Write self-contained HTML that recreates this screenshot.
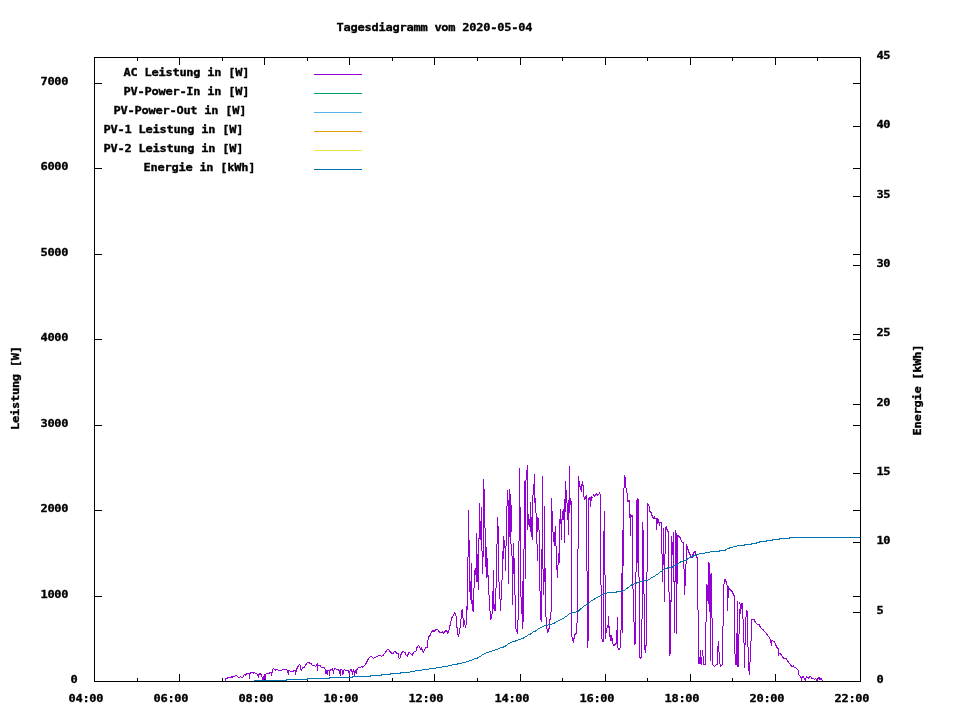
<!DOCTYPE html>
<html lang="de">
<head>
<meta charset="utf-8">
<title>Tagesdiagramm vom 2020-05-04</title>
<style>
html,body{margin:0;padding:0;background:#fff;}
body{width:960px;height:720px;overflow:hidden;}
svg{display:block;}
text{font-family:"DejaVu Sans Mono", "Liberation Mono", monospace;font-size:12px;font-weight:bold;fill:#000;stroke:#000;stroke-width:0.35px;}
</style>
</head>
<body>
<svg width="960" height="720" viewBox="0 0 960 720" shape-rendering="crispEdges">
<rect x="0" y="0" width="960" height="720" fill="#fff"/>
<g id="ticks">
<rect x="137" y="678" width="1" height="4" fill="#000"/>
<rect x="137" y="57" width="1" height="4" fill="#000"/>
<rect x="179" y="674" width="1" height="8" fill="#000"/>
<rect x="179" y="57" width="1" height="8" fill="#000"/>
<rect x="222" y="678" width="1" height="4" fill="#000"/>
<rect x="222" y="57" width="1" height="4" fill="#000"/>
<rect x="264" y="674" width="1" height="8" fill="#000"/>
<rect x="264" y="57" width="1" height="8" fill="#000"/>
<rect x="307" y="678" width="1" height="4" fill="#000"/>
<rect x="307" y="57" width="1" height="4" fill="#000"/>
<rect x="349" y="674" width="1" height="8" fill="#000"/>
<rect x="349" y="57" width="1" height="8" fill="#000"/>
<rect x="392" y="678" width="1" height="4" fill="#000"/>
<rect x="392" y="57" width="1" height="4" fill="#000"/>
<rect x="434" y="674" width="1" height="8" fill="#000"/>
<rect x="434" y="57" width="1" height="8" fill="#000"/>
<rect x="477" y="678" width="1" height="4" fill="#000"/>
<rect x="477" y="57" width="1" height="4" fill="#000"/>
<rect x="520" y="674" width="1" height="8" fill="#000"/>
<rect x="520" y="57" width="1" height="8" fill="#000"/>
<rect x="562" y="678" width="1" height="4" fill="#000"/>
<rect x="562" y="57" width="1" height="4" fill="#000"/>
<rect x="605" y="674" width="1" height="8" fill="#000"/>
<rect x="605" y="57" width="1" height="8" fill="#000"/>
<rect x="647" y="678" width="1" height="4" fill="#000"/>
<rect x="647" y="57" width="1" height="4" fill="#000"/>
<rect x="690" y="674" width="1" height="8" fill="#000"/>
<rect x="690" y="57" width="1" height="8" fill="#000"/>
<rect x="732" y="678" width="1" height="4" fill="#000"/>
<rect x="732" y="57" width="1" height="4" fill="#000"/>
<rect x="775" y="674" width="1" height="8" fill="#000"/>
<rect x="775" y="57" width="1" height="8" fill="#000"/>
<rect x="817" y="678" width="1" height="4" fill="#000"/>
<rect x="817" y="57" width="1" height="4" fill="#000"/>
<rect x="94" y="596" width="8" height="1" fill="#000"/>
<rect x="853" y="596" width="8" height="1" fill="#000"/>
<rect x="94" y="510" width="8" height="1" fill="#000"/>
<rect x="853" y="510" width="8" height="1" fill="#000"/>
<rect x="94" y="425" width="8" height="1" fill="#000"/>
<rect x="853" y="425" width="8" height="1" fill="#000"/>
<rect x="94" y="339" width="8" height="1" fill="#000"/>
<rect x="853" y="339" width="8" height="1" fill="#000"/>
<rect x="94" y="254" width="8" height="1" fill="#000"/>
<rect x="853" y="254" width="8" height="1" fill="#000"/>
<rect x="94" y="168" width="8" height="1" fill="#000"/>
<rect x="853" y="168" width="8" height="1" fill="#000"/>
<rect x="94" y="83" width="8" height="1" fill="#000"/>
<rect x="853" y="83" width="8" height="1" fill="#000"/>
<rect x="853" y="612" width="8" height="1" fill="#000"/>
<rect x="853" y="542" width="8" height="1" fill="#000"/>
<rect x="853" y="473" width="8" height="1" fill="#000"/>
<rect x="853" y="404" width="8" height="1" fill="#000"/>
<rect x="853" y="334" width="8" height="1" fill="#000"/>
<rect x="853" y="265" width="8" height="1" fill="#000"/>
<rect x="853" y="196" width="8" height="1" fill="#000"/>
<rect x="853" y="126" width="8" height="1" fill="#000"/>
</g>
<g id="curves">
<path d="M225.5 678V681M226.5 678V679M227.5 677V679M228.5 677V678M229.5 677V678M230.5 677V678M231.5 676V678M232.5 676V678M233.5 676V677M234.5 676V677M235.5 675V676M236.5 675V676M237.5 676V677M238.5 677V678M239.5 677V678M240.5 676V677M241.5 677V678M242.5 677V678M243.5 675V677M244.5 674V675M245.5 674V676M246.5 673V675M247.5 673V674M248.5 673V674M249.5 673V679M250.5 672V674M251.5 672V673M252.5 672V673M253.5 672V674M254.5 672V673M255.5 673V674M256.5 673V674M257.5 674V676M258.5 674V678M259.5 673V675M260.5 673V675M261.5 674V677M262.5 677V680M263.5 676V680M264.5 674V679M265.5 674V680M266.5 673V674M267.5 673V674M268.5 673V674M269.5 672V674M270.5 672V673M271.5 672V676M272.5 669V673M273.5 668V669M274.5 669V670M275.5 669V671M276.5 669V670M277.5 669V670M278.5 670V671M279.5 670V671M280.5 670V671M281.5 670V671M282.5 669V670M283.5 669V670M284.5 669V670M285.5 669V670M286.5 669V670M287.5 670V673M288.5 670V675M289.5 670V671M290.5 671V672M291.5 671V672M292.5 671V672M293.5 670V672M294.5 670V671M295.5 670V675M296.5 668V672M297.5 666V669M298.5 665V667M299.5 664V665M300.5 665V670M301.5 669V671M302.5 667V669M303.5 667V668M304.5 666V668M305.5 664V666M306.5 663V665M307.5 662V663M308.5 662V663M309.5 662V664M310.5 663V664M311.5 663V665M312.5 665V666M313.5 665V666M314.5 665V666M315.5 666V667M316.5 664V666M317.5 663V671M318.5 665V666M319.5 665V666M320.5 665V667M321.5 667V668M322.5 667V668M323.5 667V668M324.5 667V669M325.5 669V674M326.5 670V674M327.5 670V675M328.5 670V671M329.5 670V676M330.5 669V671M331.5 669V670M332.5 668V671M333.5 670V674M334.5 668V670M335.5 668V669M336.5 669V670M337.5 669V670M338.5 669V671M339.5 670V674M340.5 669V676M341.5 669V670M342.5 670V675M343.5 670V674M344.5 669V670M345.5 670V671M346.5 670V671M347.5 670V671M348.5 670V673M349.5 671V676M350.5 669V671M351.5 669V672M352.5 671V675M353.5 669V672M354.5 671V676M355.5 670V673M356.5 669V674M357.5 668V670M358.5 667V668M359.5 667V668M360.5 667V668M361.5 666V667M362.5 666V668M363.5 666V667M364.5 665V666M365.5 663V665M366.5 661V664M367.5 659V662M368.5 658V660M369.5 657V658M370.5 656V657M371.5 656V657M372.5 657V658M373.5 658V659M374.5 657V658M375.5 657V658M376.5 656V657M377.5 656V657M378.5 655V656M379.5 655V656M380.5 655V656M381.5 656V657M382.5 655V656M383.5 654V656M384.5 653V654M385.5 651V653M386.5 650V652M387.5 649V650M388.5 649V650M389.5 650V652M390.5 651V653M391.5 652V654M392.5 653V654M393.5 652V654M394.5 651V652M395.5 651V653M396.5 652V654M397.5 653V654M398.5 653V658M399.5 658V659M400.5 654V658M401.5 652V655M402.5 651V653M403.5 651V652M404.5 652V653M405.5 652V655M406.5 655V656M407.5 654V657M408.5 652V655M409.5 652V653M410.5 653V654M411.5 654V655M412.5 653V656M413.5 652V654M414.5 651V652M415.5 651V652M416.5 647V651M417.5 646V648M418.5 645V646M419.5 646V648M420.5 648V650M421.5 647V650M422.5 649V652M423.5 651V653M424.5 649V651M425.5 647V649M426.5 647V648M427.5 640V648M428.5 636V640M429.5 635V637M430.5 633V636M431.5 631V633M432.5 630V632M433.5 630V632M434.5 630V632M435.5 629V631M436.5 629V630M437.5 629V630M438.5 630V632M439.5 631V633M440.5 632V633M441.5 632V633M442.5 631V633M443.5 632V634M444.5 631V633M445.5 630V632M446.5 630V632M447.5 631V634M448.5 630V633M449.5 625V630M450.5 621V626M451.5 617V621M452.5 616V618M453.5 614V616M454.5 612V614M455.5 613V616M456.5 616V628M457.5 627V635M458.5 634V637M459.5 628V634M460.5 619V628M461.5 610V619M462.5 609V618M463.5 618V627M464.5 620V625M465.5 625V628M466.5 606V625M467.5 557V610M468.5 510V557M469.5 540V592M470.5 581V600M471.5 563V604M472.5 600V611M473.5 588V612M474.5 570V588M475.5 568V575M476.5 533V582M477.5 554V582M478.5 538V590M479.5 503V539M480.5 521V540M481.5 507V551M482.5 551V574M483.5 479V557M484.5 489V528M485.5 528V567M486.5 547V578M487.5 558V577M488.5 575V595M489.5 595V611M490.5 611V620M491.5 614V619M492.5 591V614M493.5 570V609M494.5 604V611M495.5 588V611M496.5 544V588M497.5 517V544M498.5 526V582M499.5 582V599M500.5 599V611M501.5 580V600M502.5 551V580M503.5 536V559M504.5 540V548M505.5 546V571M506.5 506V546M507.5 490V506M508.5 500V584M509.5 489V537M510.5 494V544M511.5 505V532M511.5 544V556M512.5 556V605M513.5 543V574M514.5 558V595M515.5 595V629M516.5 629V632M517.5 620V634M518.5 541V620M519.5 468V541M520.5 507V597M521.5 597V614M522.5 581V629M523.5 549V622M524.5 481V549M525.5 480V579M526.5 470V480M527.5 465V530M528.5 514V525M529.5 519V527M530.5 502V532M531.5 517V537M532.5 495V540M533.5 484V495M534.5 474V503M535.5 498V513M536.5 513V544M537.5 517V532M537.5 544V561M538.5 518V530M539.5 530V591M540.5 591V620M541.5 549V622M542.5 476V569M543.5 569V595M544.5 506V582M545.5 568V617M546.5 617V629M547.5 629V633M548.5 628V632M549.5 619V629M550.5 612V620M551.5 498V612M552.5 511V532M553.5 532V542M554.5 532V546M555.5 526V546M556.5 546V570M557.5 565V578M558.5 553V565M559.5 519V563M560.5 509V524M561.5 519V540M562.5 511V520M563.5 509V520M564.5 499V543M565.5 481V512M566.5 490V503M567.5 503V520M568.5 500V535M569.5 466V513M570.5 498V505M571.5 501V637M572.5 637V641M573.5 638V643M574.5 634V639M575.5 633V635M576.5 623V634M577.5 549V623M578.5 476V549M579.5 481V487M580.5 486V490M581.5 484V492M582.5 481V486M583.5 485V497M584.5 497V500M585.5 496V499M586.5 495V571M587.5 571V648M588.5 498V641M589.5 497V500M590.5 497V507M591.5 496V501M592.5 497V498M593.5 494V496M594.5 495V497M595.5 494V496M596.5 493V495M597.5 494V496M598.5 494V495M599.5 492V494M600.5 494V585M601.5 585V639M602.5 639V642M603.5 531V642M604.5 511V575M605.5 575V639M606.5 628V633M607.5 625V628M608.5 616V628M609.5 626V637M610.5 635V641M611.5 635V641M612.5 638V644M613.5 644V646M614.5 644V646M615.5 643V645M616.5 630V644M617.5 617V648M618.5 648V650M619.5 648V650M620.5 630V648M621.5 573V630M622.5 530V633M623.5 488V566M624.5 475V488M625.5 477V488M626.5 488V493M627.5 493V502M628.5 500V502M629.5 500V518M630.5 514V536M631.5 515V517M632.5 515V589M633.5 589V622M634.5 622V645M635.5 572V644M636.5 500V572M637.5 498V563M638.5 499V577M639.5 577V658M640.5 657V659M641.5 619V658M642.5 522V619M643.5 530V594M644.5 594V650M645.5 645V653M646.5 572V646M647.5 503V572M648.5 504V506M649.5 506V512M650.5 511V513M651.5 512V516M652.5 515V518M653.5 517V519M654.5 516V519M655.5 518V519M656.5 518V530M657.5 518V524M658.5 519V523M659.5 522V526M660.5 522V523M661.5 522V554M662.5 554V582M663.5 528V565M664.5 554V602M665.5 527V554M666.5 526V530M667.5 529V532M668.5 531V592M669.5 592V656M670.5 600V654M671.5 536V602M672.5 542V555M673.5 532V582M674.5 581V633M675.5 530V582M676.5 533V634M677.5 535V584M678.5 535V537M679.5 536V538M680.5 537V540M681.5 540V542M682.5 542V543M683.5 542V569M684.5 569V595M685.5 564V586M686.5 544V564M687.5 546V550M688.5 549V553M689.5 552V555M690.5 554V557M691.5 556V558M692.5 554V558M693.5 552V555M694.5 551V553M695.5 551V555M696.5 554V558M697.5 557V610M698.5 610V664M699.5 657V664M700.5 650V664M701.5 657V665M702.5 650V656M703.5 656V665M704.5 664V665M705.5 622V665M706.5 584V622M707.5 585V601M708.5 562V604M709.5 563V612M710.5 574V661M711.5 573V618M712.5 618V665M713.5 665V666M714.5 666V667M715.5 665V666M716.5 664V665M717.5 646V665M718.5 641V652M719.5 652V664M720.5 664V667M721.5 665V666M722.5 626V665M723.5 584V626M724.5 579V584M725.5 579V582M726.5 581V585M727.5 585V611M728.5 586V598M729.5 588V590M730.5 589V591M731.5 590V592M732.5 591V594M733.5 593V596M734.5 595V654M735.5 654V665M736.5 633V665M737.5 601V667M738.5 634V667M739.5 602V604M739.5 609V634M740.5 604V614M741.5 603V609M742.5 603V619M743.5 619V643M744.5 643V668M745.5 617V645M746.5 610V617M747.5 611V647M748.5 647V671M749.5 662V675M750.5 641V662M751.5 619V641M752.5 619V620M753.5 619V620M754.5 619V622M755.5 621V623M756.5 623V624M757.5 624V625M758.5 624V625M759.5 624V627M760.5 626V628M761.5 628V629M762.5 629V630M763.5 629V631M764.5 631V632M765.5 632V633M766.5 633V635M767.5 634V636M768.5 636V637M769.5 637V639M770.5 639V643M771.5 640V646M772.5 640V641M773.5 641V642M774.5 641V643M775.5 643V646M776.5 645V648M777.5 647V649M778.5 648V656M779.5 653V654M780.5 653V655M781.5 654V656M782.5 656V658M783.5 657V659M784.5 658V659M785.5 658V659M786.5 658V660M787.5 660V662M788.5 661V663M789.5 663V664M790.5 664V666M791.5 665V667M792.5 666V667M793.5 665V667M794.5 667V668M795.5 667V668M796.5 668V669M797.5 669V670M798.5 670V675M799.5 675V676M800.5 676V678M801.5 677V681M802.5 676V678M803.5 676V678M804.5 678V680M805.5 678V681M806.5 676V678M807.5 677V678M808.5 677V679M809.5 676V678M810.5 676V677M811.5 677V679M812.5 678V679M813.5 678V679M814.5 679V680M815.5 678V679M816.5 679V681M817.5 679V681M818.5 677V679M819.5 677V680M820.5 678V680M821.5 678V680M822.5 680V681M823.5 681V682" fill="none" stroke="#9400d3" stroke-width="1"/>
<path d="M254.5 680V681M255.5 680V681M256.5 680V681M257.5 680V681M258.5 680V681M259.5 680V681M260.5 680V681M261.5 680V681M262.5 680V681M263.5 680V681M264.5 680V681M265.5 680V681M266.5 680V681M267.5 680V681M268.5 680V681M269.5 680V681M270.5 680V681M271.5 680V681M272.5 680V681M273.5 680V681M274.5 680V681M275.5 680V681M276.5 680V681M277.5 680V681M278.5 680V681M279.5 680V681M280.5 680V681M281.5 680V681M282.5 680V681M283.5 680V681M284.5 680V681M285.5 680V681M286.5 679V681M287.5 679V680M288.5 679V680M289.5 679V680M290.5 679V680M291.5 679V680M292.5 679V680M293.5 679V680M294.5 679V680M295.5 679V680M296.5 679V680M297.5 679V680M298.5 679V680M299.5 679V680M300.5 679V680M301.5 679V680M302.5 679V680M303.5 679V680M304.5 679V680M305.5 679V680M306.5 679V680M307.5 678V680M308.5 678V679M309.5 678V679M310.5 678V679M311.5 678V679M312.5 678V679M313.5 678V679M314.5 678V679M315.5 678V679M316.5 678V679M317.5 678V679M318.5 678V679M319.5 678V679M320.5 678V679M321.5 678V679M322.5 678V679M323.5 678V679M324.5 678V679M325.5 678V679M326.5 678V679M327.5 678V679M328.5 678V679M329.5 677V679M330.5 677V678M331.5 677V678M332.5 677V678M333.5 677V678M334.5 677V678M335.5 677V678M336.5 677V678M337.5 677V678M338.5 677V678M339.5 677V678M340.5 677V678M341.5 677V678M342.5 677V678M343.5 677V678M344.5 677V678M345.5 677V678M346.5 677V678M347.5 677V678M348.5 677V678M349.5 677V678M350.5 677V678M351.5 677V678M352.5 676V678M353.5 676V677M354.5 676V677M355.5 676V677M356.5 676V677M357.5 676V677M358.5 676V677M359.5 676V677M360.5 676V677M361.5 676V677M362.5 676V677M363.5 676V677M364.5 676V677M365.5 676V677M366.5 676V677M367.5 676V677M368.5 676V677M369.5 676V677M370.5 675V677M371.5 675V676M372.5 675V676M373.5 675V676M374.5 675V676M375.5 675V676M376.5 675V676M377.5 675V676M378.5 675V676M379.5 675V676M380.5 675V676M381.5 674V676M382.5 674V675M383.5 674V675M384.5 674V675M385.5 674V675M386.5 674V675M387.5 674V675M388.5 674V675M389.5 674V675M390.5 673V675M391.5 673V674M392.5 673V674M393.5 673V674M394.5 673V674M395.5 673V674M396.5 673V674M397.5 673V674M398.5 673V674M399.5 673V674M400.5 672V674M401.5 672V673M402.5 672V673M403.5 672V673M404.5 672V673M405.5 672V673M406.5 672V673M407.5 672V673M408.5 672V673M409.5 672V673M410.5 671V672M411.5 671V672M412.5 671V672M413.5 671V672M414.5 671V672M415.5 670V671M416.5 670V671M417.5 670V671M418.5 670V671M419.5 670V671M420.5 670V671M421.5 670V671M422.5 669V670M423.5 669V670M424.5 669V670M425.5 669V670M426.5 669V670M427.5 669V670M428.5 669V670M429.5 668V669M430.5 668V669M431.5 668V669M432.5 668V669M433.5 668V669M434.5 668V669M435.5 668V669M436.5 667V668M437.5 667V668M438.5 667V668M439.5 667V668M440.5 667V668M441.5 667V668M442.5 666V667M443.5 666V667M444.5 666V667M445.5 666V667M446.5 666V667M447.5 666V667M448.5 665V666M449.5 665V666M450.5 665V666M451.5 665V666M452.5 664V665M453.5 664V665M454.5 664V665M455.5 664V665M456.5 664V665M457.5 663V665M458.5 663V664M459.5 663V664M460.5 663V664M461.5 663V664M462.5 662V663M463.5 662V663M464.5 662V663M465.5 662V663M466.5 661V662M467.5 661V662M468.5 661V662M469.5 660V661M470.5 660V661M471.5 660V661M472.5 659V660M473.5 659V660M474.5 658V659M475.5 658V659M476.5 658V659M477.5 657V659M478.5 657V658M479.5 656V657M480.5 656V657M481.5 655V656M482.5 654V655M483.5 654V655M484.5 653V654M485.5 653V654M486.5 652V653M487.5 652V653M488.5 652V653M489.5 651V652M490.5 651V652M491.5 651V652M492.5 650V651M493.5 650V651M494.5 650V651M495.5 649V650M496.5 649V650M497.5 649V650M498.5 648V649M499.5 648V649M500.5 647V648M501.5 647V648M502.5 647V648M503.5 646V648M504.5 646V647M505.5 645V647M506.5 645V646M507.5 644V645M508.5 643V644M509.5 643V644M510.5 642V643M511.5 642V643M512.5 641V642M513.5 641V642M514.5 641V642M515.5 640V642M516.5 640V641M517.5 640V641M518.5 639V640M519.5 639V640M520.5 639V640M521.5 638V639M522.5 638V639M523.5 637V639M524.5 637V638M525.5 636V637M526.5 636V637M527.5 635V636M528.5 634V635M529.5 634V635M530.5 633V635M531.5 633V634M532.5 632V633M533.5 631V632M534.5 631V632M535.5 630V632M536.5 630V631M537.5 629V630M538.5 628V629M539.5 628V629M540.5 627V628M541.5 627V628M542.5 626V627M543.5 626V627M544.5 625V626M545.5 625V626M546.5 625V626M547.5 625V626M548.5 624V625M549.5 624V625M550.5 624V625M551.5 624V625M552.5 623V624M553.5 623V624M554.5 622V624M555.5 622V623M556.5 621V622M557.5 621V622M558.5 620V621M559.5 620V621M560.5 619V620M561.5 619V620M562.5 618V619M563.5 618V619M564.5 617V618M565.5 616V617M566.5 616V617M567.5 615V616M568.5 614V615M569.5 613V614M570.5 613V614M571.5 612V613M572.5 612V613M573.5 612V613M574.5 612V613M575.5 612V613M576.5 611V612M577.5 611V612M578.5 610V612M579.5 609V611M580.5 608V610M581.5 608V609M582.5 607V608M583.5 606V607M584.5 605V606M585.5 605V606M586.5 604V605M587.5 604V605M588.5 603V605M589.5 602V603M590.5 601V602M591.5 600V601M592.5 600V601M593.5 599V600M594.5 598V600M595.5 598V599M596.5 597V598M597.5 597V598M598.5 596V597M599.5 596V597M600.5 595V596M601.5 595V596M602.5 594V595M603.5 594V595M604.5 593V594M605.5 593V594M606.5 593V594M607.5 592V593M608.5 592V593M609.5 592V593M610.5 592V593M611.5 592V593M612.5 592V593M613.5 592V593M614.5 592V593M615.5 592V593M616.5 591V593M617.5 591V592M618.5 591V592M619.5 591V592M620.5 591V592M621.5 591V592M622.5 590V591M623.5 590V591M624.5 590V591M625.5 589V590M626.5 588V589M627.5 587V589M628.5 587V588M629.5 586V587M630.5 585V586M631.5 584V586M632.5 584V585M633.5 584V585M634.5 583V584M635.5 583V584M636.5 582V584M637.5 582V583M638.5 582V583M639.5 581V582M640.5 581V582M641.5 581V582M642.5 581V582M643.5 581V582M644.5 580V581M645.5 580V581M646.5 580V581M647.5 580V581M648.5 579V580M649.5 579V580M650.5 578V579M651.5 577V578M652.5 577V578M653.5 576V577M654.5 576V577M655.5 575V576M656.5 574V575M657.5 574V575M658.5 573V574M659.5 572V573M660.5 571V572M661.5 571V572M662.5 570V571M663.5 569V570M664.5 569V570M665.5 568V569M666.5 568V569M667.5 567V569M668.5 567V568M669.5 567V568M670.5 567V568M671.5 567V568M672.5 566V568M673.5 566V567M674.5 565V566M675.5 565V566M676.5 564V566M677.5 563V564M678.5 563V564M679.5 562V563M680.5 561V563M681.5 561V562M682.5 561V562M683.5 561V562M684.5 560V561M685.5 560V561M686.5 559V561M687.5 558V560M688.5 558V559M689.5 557V558M690.5 557V558M691.5 556V557M692.5 556V557M693.5 555V557M694.5 555V556M695.5 555V556M696.5 554V555M697.5 554V555M698.5 554V555M699.5 553V554M700.5 553V554M701.5 553V554M702.5 553V554M703.5 553V554M704.5 553V554M705.5 552V553M706.5 552V553M707.5 552V553M708.5 552V553M709.5 552V553M710.5 551V552M711.5 551V552M712.5 551V552M713.5 551V552M714.5 551V552M715.5 551V552M716.5 551V552M717.5 551V552M718.5 551V552M719.5 550V552M720.5 550V551M721.5 550V551M722.5 550V551M723.5 550V551M724.5 550V551M725.5 549V551M726.5 549V550M727.5 548V549M728.5 548V549M729.5 547V549M730.5 547V548M731.5 547V548M732.5 547V548M733.5 546V547M734.5 546V547M735.5 546V547M736.5 546V547M737.5 545V546M738.5 545V546M739.5 545V546M740.5 545V546M741.5 545V546M742.5 545V546M743.5 545V546M744.5 544V546M745.5 544V545M746.5 544V545M747.5 544V545M748.5 544V545M749.5 544V545M750.5 544V545M751.5 543V545M752.5 543V544M753.5 543V544M754.5 543V544M755.5 543V544M756.5 542V544M757.5 542V543M758.5 542V543M759.5 541V543M760.5 541V542M761.5 541V542M762.5 541V542M763.5 541V542M764.5 541V542M765.5 541V542M766.5 540V542M767.5 540V541M768.5 540V541M769.5 540V541M770.5 540V541M771.5 540V541M772.5 539V541M773.5 539V540M774.5 539V540M775.5 539V540M776.5 539V540M777.5 539V540M778.5 539V540M779.5 538V540M780.5 538V539M781.5 538V539M782.5 538V539M783.5 538V539M784.5 538V539M785.5 538V539M786.5 538V539M787.5 538V539M788.5 538V539M789.5 537V539M790.5 537V538M791.5 537V538M792.5 537V538M793.5 537V538M794.5 537V538M795.5 537V538M796.5 537V538M797.5 537V538M798.5 537V538M799.5 537V538M800.5 537V538M801.5 537V538M802.5 537V538M803.5 537V538M804.5 537V538M805.5 537V538M806.5 537V538M807.5 537V538M808.5 537V538M809.5 537V538M810.5 537V538M811.5 537V538M812.5 537V538M813.5 537V538M814.5 537V538M815.5 537V538M816.5 537V538M817.5 537V538M818.5 537V538M819.5 537V538M820.5 537V538M821.5 537V538M822.5 537V538M823.5 537V538M824.5 537V538M825.5 537V538M826.5 537V538M827.5 537V538M828.5 537V538M829.5 537V538M830.5 537V538M831.5 537V538M832.5 537V538M833.5 537V538M834.5 537V538M835.5 537V538M836.5 537V538M837.5 537V538M838.5 537V538M839.5 537V538M840.5 537V538M841.5 537V538M842.5 537V538M843.5 537V538M844.5 537V538M845.5 537V538M846.5 537V538M847.5 537V538M848.5 537V538M849.5 537V538M850.5 537V538M851.5 537V538M852.5 537V538M853.5 537V538M854.5 537V538M855.5 537V538M856.5 537V538M857.5 537V538M858.5 537V538M859.5 537V538M860.5 537V538" fill="none" stroke="#0072b2" stroke-width="1"/>
</g>
<g id="legend">
<rect x="314" y="74" width="48" height="1" fill="#9400d3"/>
<rect x="314" y="93" width="48" height="1" fill="#009e73"/>
<rect x="314" y="112" width="48" height="1" fill="#56b4e9"/>
<rect x="314" y="131" width="48" height="1" fill="#e69f00"/>
<rect x="314" y="150" width="48" height="1" fill="#f0e442"/>
<rect x="314" y="169" width="48" height="1" fill="#0072b2"/>
</g>
<g id="frame">
<rect x="94" y="57" width="767" height="1" fill="#000"/>
<rect x="94" y="681" width="767" height="1" fill="#000"/>
<rect x="94" y="57" width="1" height="625" fill="#000"/>
<rect x="860" y="57" width="1" height="625" fill="#000"/>
</g>
<g id="labels">
<text transform="translate(336.5 31) scale(1 0.92)" text-anchor="start" textLength="196" lengthAdjust="spacing">Tagesdiagramm vom 2020-05-04</text>
<text transform="translate(123.5 76) scale(1 0.92)" text-anchor="start" textLength="126" lengthAdjust="spacing">AC Leistung in [W]</text>
<text transform="translate(123.5 95) scale(1 0.92)" text-anchor="start" textLength="126" lengthAdjust="spacing">PV-Power-In in [W]</text>
<text transform="translate(113.5 114) scale(1 0.92)" text-anchor="start" textLength="133" lengthAdjust="spacing">PV-Power-Out in [W]</text>
<text transform="translate(103.5 133) scale(1 0.92)" text-anchor="start" textLength="140" lengthAdjust="spacing">PV-1 Leistung in [W]</text>
<text transform="translate(103.5 152) scale(1 0.92)" text-anchor="start" textLength="140" lengthAdjust="spacing">PV-2 Leistung in [W]</text>
<text transform="translate(143.5 171) scale(1 0.92)" text-anchor="start" textLength="112" lengthAdjust="spacing">Energie in [kWh]</text>
<text transform="translate(70.5 683) scale(1 0.92)" text-anchor="start" textLength="7" lengthAdjust="spacing">0</text>
<text transform="translate(40.5 598) scale(1 0.92)" text-anchor="start" textLength="28" lengthAdjust="spacing">1000</text>
<text transform="translate(40.5 512) scale(1 0.92)" text-anchor="start" textLength="28" lengthAdjust="spacing">2000</text>
<text transform="translate(40.5 427) scale(1 0.92)" text-anchor="start" textLength="28" lengthAdjust="spacing">3000</text>
<text transform="translate(40.5 341) scale(1 0.92)" text-anchor="start" textLength="28" lengthAdjust="spacing">4000</text>
<text transform="translate(40.5 256) scale(1 0.92)" text-anchor="start" textLength="28" lengthAdjust="spacing">5000</text>
<text transform="translate(40.5 170) scale(1 0.92)" text-anchor="start" textLength="28" lengthAdjust="spacing">6000</text>
<text transform="translate(40.5 85) scale(1 0.92)" text-anchor="start" textLength="28" lengthAdjust="spacing">7000</text>
<text transform="translate(876.5 683) scale(1 0.92)" text-anchor="start" textLength="7" lengthAdjust="spacing">0</text>
<text transform="translate(876.5 614) scale(1 0.92)" text-anchor="start" textLength="7" lengthAdjust="spacing">5</text>
<text transform="translate(876.5 544) scale(1 0.92)" text-anchor="start" textLength="14" lengthAdjust="spacing">10</text>
<text transform="translate(876.5 475) scale(1 0.92)" text-anchor="start" textLength="14" lengthAdjust="spacing">15</text>
<text transform="translate(876.5 406) scale(1 0.92)" text-anchor="start" textLength="14" lengthAdjust="spacing">20</text>
<text transform="translate(876.5 336) scale(1 0.92)" text-anchor="start" textLength="14" lengthAdjust="spacing">25</text>
<text transform="translate(876.5 267) scale(1 0.92)" text-anchor="start" textLength="14" lengthAdjust="spacing">30</text>
<text transform="translate(876.5 198) scale(1 0.92)" text-anchor="start" textLength="14" lengthAdjust="spacing">35</text>
<text transform="translate(876.5 128) scale(1 0.92)" text-anchor="start" textLength="14" lengthAdjust="spacing">40</text>
<text transform="translate(876.5 59) scale(1 0.92)" text-anchor="start" textLength="14" lengthAdjust="spacing">45</text>
<text transform="translate(68.5 702) scale(1 0.92)" text-anchor="start" textLength="35" lengthAdjust="spacing">04:00</text>
<text transform="translate(153.5 702) scale(1 0.92)" text-anchor="start" textLength="35" lengthAdjust="spacing">06:00</text>
<text transform="translate(238.5 702) scale(1 0.92)" text-anchor="start" textLength="35" lengthAdjust="spacing">08:00</text>
<text transform="translate(323.5 702) scale(1 0.92)" text-anchor="start" textLength="35" lengthAdjust="spacing">10:00</text>
<text transform="translate(408.5 702) scale(1 0.92)" text-anchor="start" textLength="35" lengthAdjust="spacing">12:00</text>
<text transform="translate(494.5 702) scale(1 0.92)" text-anchor="start" textLength="35" lengthAdjust="spacing">14:00</text>
<text transform="translate(579.5 702) scale(1 0.92)" text-anchor="start" textLength="35" lengthAdjust="spacing">16:00</text>
<text transform="translate(664.5 702) scale(1 0.92)" text-anchor="start" textLength="35" lengthAdjust="spacing">18:00</text>
<text transform="translate(749.5 702) scale(1 0.92)" text-anchor="start" textLength="35" lengthAdjust="spacing">20:00</text>
<text transform="translate(834.5 702) scale(1 0.92)" text-anchor="start" textLength="35" lengthAdjust="spacing">22:00</text>
<text transform="translate(19 388.0) rotate(-90) scale(1 0.92)" text-anchor="middle" textLength="84" lengthAdjust="spacing">Leistung [W]</text>
<text transform="translate(921 390.0) rotate(-90) scale(1 0.92)" text-anchor="middle" textLength="91" lengthAdjust="spacing">Energie [kWh]</text>
</g>
</svg>
</body>
</html>
